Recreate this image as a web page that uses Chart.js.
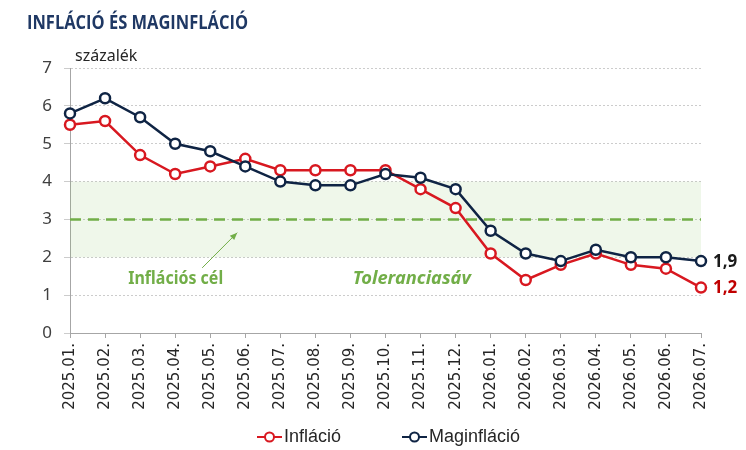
<!DOCTYPE html>
<html>
<head>
<meta charset="utf-8">
<script src="https://cdn.jsdelivr.net/npm/chart.js@4.4.1/dist/chart.umd.min.js"></script>
<style>
  html, body { margin: 0; padding: 0; background: #fff; }
  #wrap { width: 746px; height: 450px; position: relative; }
</style>
</head>
<body>
<div id="wrap"><canvas id="line-chart"></canvas></div>
<script>
// havi adatok (százalék)
var months = ["2025.01.", "2025.02.", "2025.03.", "2025.04.", "2025.05.", "2025.06.",
              "2025.07.", "2025.08.", "2025.09.", "2025.10.", "2025.11.", "2025.12.",
              "2026.01.", "2026.02.", "2026.03.", "2026.04.", "2026.05.", "2026.06.", "2026.07."];
var inflacio    = [5.5, 5.6, 4.7, 4.2, 4.4, 4.6, 4.3, 4.3, 4.3, 4.3, 3.8, 3.3, 2.1, 1.4, 1.8, 2.1, 1.8, 1.7, 1.2];
var maginflacio = [5.8, 6.2, 5.7, 5.0, 4.8, 4.4, 4.0, 3.9, 3.9, 4.2, 4.1, 3.8, 2.7, 2.1, 1.9, 2.2, 2.0, 2.0, 1.9];
var yMin = 0, yMax = 7, yStep = 1;

// inflációs cél és toleranciasáv
var cel = 3;
var savAlso = 2;
var savFelso = 4;

var PIROS = '#d81820';
var SOTETKEK = '#0f2444';
var ZOLD = '#72ae48';

// rajzol egy szöveget, vízszintesen a megadott szélességre igazítva
function fitText(ctx, text, x, y, width) {
  var w = ctx.measureText(text).width;
  ctx.save();
  ctx.translate(x, y);
  ctx.scale(width / w, 1);
  ctx.fillText(text, 0, 0);
  ctx.restore();
}

var extras = {
  id: 'extras',
  beforeDatasetsDraw: function(chart) {
    var ctx = chart.ctx, xs = chart.scales.x, ys = chart.scales.y;
    // toleranciasáv
    ctx.save();
    ctx.fillStyle = 'rgba(130, 190, 90, 0.13)';
    ctx.fillRect(xs.left, ys.getPixelForValue(savFelso), xs.right - xs.left,
                 ys.getPixelForValue(savAlso) - ys.getPixelForValue(savFelso));
    // inflációs cél
    ctx.strokeStyle = ZOLD;
    ctx.lineWidth = 2.5;
    ctx.setLineDash([11, 7]);
    ctx.beginPath();
    ctx.moveTo(xs.left, ys.getPixelForValue(cel));
    ctx.lineTo(xs.right, ys.getPixelForValue(cel));
    ctx.stroke();
    ctx.setLineDash([]);

    // nyíl a célhoz
    var x1 = xs.getPixelForValue(3.77), y1 = ys.getPixelForValue(1.72);
    var x2 = xs.getPixelForValue(4.77), y2 = ys.getPixelForValue(2.65);
    ctx.lineWidth = 1;
    ctx.beginPath();
    ctx.moveTo(x1, y1);
    ctx.lineTo(x2, y2);
    ctx.stroke();
    var a = Math.atan2(y2 - y1, x2 - x1);
    ctx.fillStyle = ZOLD;
    ctx.beginPath();
    ctx.moveTo(x2, y2);
    ctx.lineTo(x2 - 8 * Math.cos(a - 0.4), y2 - 8 * Math.sin(a - 0.4));
    ctx.lineTo(x2 - 8 * Math.cos(a + 0.4), y2 - 8 * Math.sin(a + 0.4));
    ctx.closePath();
    ctx.fill();

    // feliratok
    ctx.textBaseline = 'alphabetic';
    ctx.font = 'bold 17px "Noto Sans"';
    fitText(ctx, 'Inflációs cél', xs.getPixelForValue(3) - 47, ys.getPixelForValue(1.3), 95);
    ctx.font = 'italic bold 17px "Noto Sans"';
    fitText(ctx, 'Toleranciasáv', xs.getPixelForValue(9.75) - 59, ys.getPixelForValue(1.3), 118);
    ctx.restore();
  },
  afterDatasetsDraw: function(chart) {
    var ctx = chart.ctx;
    ctx.save();
    ctx.font = 'bold 17px "Noto Sans"';
    ctx.textBaseline = 'middle';
    ctx.textAlign = 'left';
    chart.data.datasets.forEach(function(ds, i) {
      var meta = chart.getDatasetMeta(i);
      var last = meta.data[meta.data.length - 1];
      var v = ds.data[ds.data.length - 1];
      ctx.fillStyle = ds.label === 'Infláció' ? '#c00000' : '#1a1a1a';
      ctx.fillText(v.toFixed(1).replace('.', ','), last.x + 12, last.y + 1);
    });
    ctx.restore();
  },
  afterDraw: function(chart) {
    var ctx = chart.ctx;
    ctx.save();
    // cím
    ctx.fillStyle = '#1f3864';
    ctx.font = 'bold 19px "Open Sans"';
    ctx.textBaseline = 'alphabetic';
    fitText(ctx, 'INFLÁCIÓ ÉS MAGINFLÁCIÓ', 27, 29, 221);
    // mértékegység
    ctx.fillStyle = '#262626';
    ctx.font = '16px "Noto Sans"';
    ctx.textBaseline = 'middle';
    ctx.fillText('százalék', 75, 56);

    // jelmagyarázat
    var items = [{ x: 257, w: 57 }, { x: 402, w: 91 }];
    ctx.font = '18px "Liberation Sans"';
    chart.data.datasets.forEach(function(ds, i) {
      var it = items[i], y = 437;
      ctx.strokeStyle = ds.borderColor;
      ctx.lineWidth = 2;
      ctx.beginPath();
      ctx.moveTo(it.x, y);
      ctx.lineTo(it.x + 25, y);
      ctx.stroke();
      ctx.fillStyle = '#fff';
      ctx.beginPath();
      ctx.arc(it.x + 12.5, y, 4.5, 0, Math.PI * 2);
      ctx.fill();
      ctx.stroke();
      ctx.fillStyle = '#262626';
      ctx.textBaseline = 'middle';
      fitText(ctx, ds.label, it.x + 27, y, it.w);
    });
    ctx.restore();
  }
};

var ctx = document.getElementById('line-chart');

var lineChart = new Chart(ctx, {
  type: 'line',
  data: {
    labels: months,
    datasets: [
      {
        label: 'Infláció',
        data: inflacio,
        borderColor: PIROS,
        backgroundColor: '#fff',
        borderWidth: 2.5,
        pointRadius: 5,
        pointBorderWidth: 2.5,
        pointBackgroundColor: '#fff',
        tension: 0,
        order: 2
      },
      {
        label: 'Maginfláció',
        data: maginflacio,
        borderColor: SOTETKEK,
        backgroundColor: '#fff',
        borderWidth: 2.5,
        pointRadius: 5,
        pointBorderWidth: 2.5,
        pointBackgroundColor: '#fff',
        tension: 0,
        order: 1
      }
    ]
  },
  options: {
    responsive: true,
    maintainAspectRatio: false,
    animation: false,
    layout: { padding: { top: 68, right: 45, bottom: 37, left: 0 } },
    plugins: {
      legend: { display: false },
      tooltip: { enabled: false }
    },
    scales: {
      x: {
        offset: false,
        afterFit: function(scale) { scale.height = 80; },
        grid: { drawOnChartArea: false, drawTicks: true, tickLength: 5, color: '#a6a6a6' },
        border: { color: '#a6a6a6', width: 1 },
        ticks: {
          autoSkip: false,
          minRotation: 90,
          maxRotation: 90,
          padding: 5,
          color: '#262626',
          font: { family: 'DejaVu Sans', size: 15 }
        }
      },
      y: {
        min: yMin,
        max: yMax,
        afterFit: function(scale) { scale.width = 70; },
        grid: { color: '#cccccc', tickLength: 6, lineWidth: 1 },
        border: { color: '#a6a6a6', width: 1, dash: [2, 2] },
        ticks: {
          stepSize: yStep,
          padding: 12,
          color: '#404040',
          font: { family: 'Noto Sans', size: 17 }
        }
      }
    }
  },
  plugins: [extras]
});
</script>
</body>
</html>
